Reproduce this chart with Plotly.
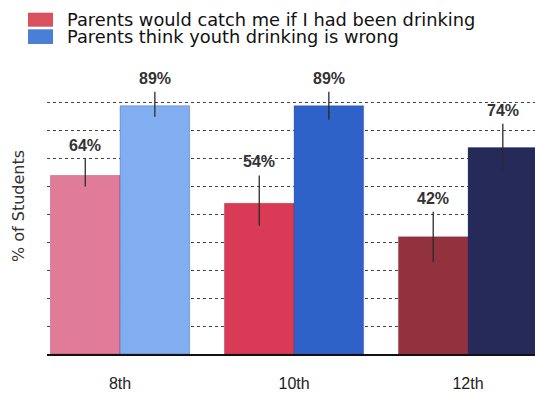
import plotly.graph_objects as go

# ---- data ----
grades = ["8th", "10th", "12th"]
series_names = ["Parents would catch me if I had been drinking",
                "Parents think youth drinking is wrong"]
catch_vals = [64, 54, 42]
wrong_vals = [89, 89, 74]
catch_err_plus = [6, 10, 9]
catch_err_minus = [4, 8, 9]
wrong_err_plus = [5, 5, 8.5]
wrong_err_minus = [4, 5, 8]
catch_colors = ["#e07b98", "#d93a55", "#93323f"]
wrong_colors = ["#80aef0", "#2f62c8", "#252a58"]
legend_colors = ["#d9505e", "#4a7fd6"]

xs = list(range(len(grades)))
W, H = 535, 393
ml, mr, mt, mb = 47, 0, 75, 39
pw, ph = W - ml - mr, H - mt - mb
x_lo, x_hi = -0.42, 2.385


def px_to_paper_x(px):
    return (px - ml) / pw


def px_to_paper_y(py):
    return (H - mb - py) / ph


fig = go.Figure()
err_style = dict(type="data", symmetric=False, color="#2a2a2a", thickness=1.3, width=0)

fig.add_trace(go.Bar(
    x=xs, y=catch_vals, width=0.4, offset=-0.4,
    marker=dict(color=catch_colors, line=dict(color="rgba(120,30,50,0.5)", width=0.6)),
    error_y=dict(array=catch_err_plus, arrayminus=catch_err_minus, **err_style),
    name=series_names[0], showlegend=False, hoverinfo="skip",
))
fig.add_trace(go.Bar(
    x=xs, y=wrong_vals, width=0.4, offset=0,
    marker=dict(color=wrong_colors, line=dict(color="rgba(30,50,120,0.5)", width=0.6)),
    error_y=dict(array=wrong_err_plus, arrayminus=wrong_err_minus, **err_style),
    name=series_names[1], showlegend=False, hoverinfo="skip",
))

annotations = []
for vals, errs, off in [(catch_vals, catch_err_plus, -0.2), (wrong_vals, wrong_err_plus, 0.2)]:
    for i, (v, e) in enumerate(zip(vals, errs)):
        annotations.append(dict(
            x=i + off, y=v + e, xref="x", yref="y", text=f"<b>{v}%</b>", showarrow=False,
            yanchor="bottom", xanchor="center", yshift=3,
            font=dict(family="Liberation Sans, Arial", size=16, color="#333333"),
        ))

# y-axis title
annotations.append(dict(
    x=px_to_paper_x(18), y=px_to_paper_y(206), xref="paper", yref="paper",
    text="% of Students", textangle=-90, showarrow=False, xanchor="center", yanchor="middle",
    font=dict(family="DejaVu Sans", size=16, color="#333333"),
))

# legend (squares + text)
shapes = []
leg_rows = [(12.7, 26.7, 19), (29.3, 44, 36.5)]
for (y0, y1, yc), name, col in zip(leg_rows, series_names, legend_colors):
    shapes.append(dict(
        type="rect", xref="paper", yref="paper",
        x0=px_to_paper_x(28), x1=px_to_paper_x(53),
        y0=px_to_paper_y(y1), y1=px_to_paper_y(y0),
        fillcolor=col, line=dict(width=0),
    ))
    annotations.append(dict(
        x=px_to_paper_x(65), y=px_to_paper_y(yc), xref="paper", yref="paper",
        text=name, showarrow=False, xanchor="left", yanchor="middle",
        font=dict(family="DejaVu Sans", size=17.8, color="#111111"),
    ))

fig.update_layout(
    width=W, height=H,
    margin=dict(l=ml, r=mr, t=mt, b=mb, pad=0, autoexpand=False),
    paper_bgcolor="white", plot_bgcolor="white",
    barmode="overlay",
    showlegend=False,
    annotations=annotations,
    shapes=shapes,
    xaxis=dict(
        range=[x_lo, x_hi], tickmode="array", tickvals=xs, ticktext=grades,
        showgrid=False, zeroline=False, showline=True, linecolor="#111111", linewidth=1.5,
        ticks="outside", ticklen=14, tickcolor="rgba(0,0,0,0)", automargin=False,
        tickfont=dict(family="Liberation Sans, Arial", size=16, color="#222222"),
    ),
    yaxis=dict(
        range=[0, 100], dtick=10, showticklabels=False, zeroline=False,
        showgrid=True, gridcolor="#444444", gridwidth=1, griddash="dot",
        showline=False, ticks="", automargin=False,
    ),
)

fig.write_html(
    "out.html",
    config={"displayModeBar": False, "staticPlot": True},
    post_script="document.body.style.margin='0';document.body.style.overflow='hidden';",
)
